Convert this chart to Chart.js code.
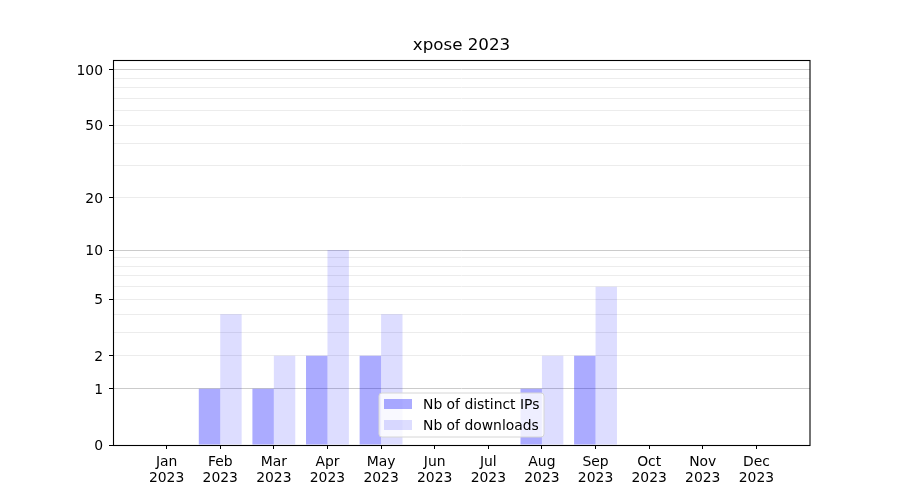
<!DOCTYPE html>
<html>
<head>
<meta charset="utf-8">
<script src="https://cdn.jsdelivr.net/npm/chart.js@4/dist/chart.umd.min.js"></script>
<style>
  html, body { margin: 0; padding: 0; background: #ffffff; }
  #wrap { width: 900px; height: 500px; }
</style>
</head>
<body>
<div id="wrap"><canvas id="c" width="900" height="500"></canvas></div>
<script>
// ---- data ----
const title = 'xpose 2023';
const months = ['Jan','Feb','Mar','Apr','May','Jun','Jul','Aug','Sep','Oct','Nov','Dec'];
const year = '2023';
const distinctIPs = [0, 1, 1, 2, 2, 0, 0, 1, 2, 0, 0, 0];
const downloads   = [0, 4, 2, 10, 4, 0, 0, 2, 6, 0, 0, 0];
const seriesNames = ['Nb of distinct IPs', 'Nb of downloads'];
const yTickLabels = [0, 1, 2, 5, 10, 20, 50, 100];
const yMinorGrid  = [3, 4, 6, 7, 8, 9, 30, 40, 60, 70, 80, 90];
const yMax = 113;

const FONT = 'DejaVu Sans';
const colors = ['rgba(0,0,255,0.33)', 'rgba(0,0,255,0.133)'];

// padded category axis (one empty slot on each side)
const labels = [''].concat(months.map(m => [m, year])).concat(['']);
const pad = arr => [null].concat(arr).concat([null]);

// ---- log10(1+x) scale ----
class Log1pScale extends Chart.Scale {
  determineDataLimits() {
    this.min = 0;
    this.max = this.options.max != null ? this.options.max : 100;
  }
  buildTicks() {
    const vals = yTickLabels.concat(yMinorGrid).sort((a, b) => a - b);
    return vals.map(v => ({ value: v, major: yTickLabels.includes(v) }));
  }
  configure() {
    super.configure();
    this._s = Math.log10(1 + this.min);
    this._r = Math.log10(1 + this.max) - this._s;
  }
  getLabelForValue(v) { return String(v); }
  getPixelForValue(v) {
    if (v === null || v === undefined || isNaN(v)) return NaN;
    return this.getPixelForDecimal((Math.log10(1 + v) - this._s) / this._r);
  }
  getValueForPixel(p) {
    const d = this.getDecimalForPixel(p);
    return Math.pow(10, this._s + d * this._r) - 1;
  }
}
Log1pScale.id = 'log1p';
Log1pScale.defaults = {};
Chart.register(Log1pScale);

// ---- plugins: frame, title, legend ----
const framePlugin = {
  id: 'frame',
  afterDatasetsDraw(chart) {
    const a = chart.chartArea, ctx = chart.ctx;
    ctx.save();
    ctx.strokeStyle = '#000000';
    ctx.lineWidth = 1.1;
    ctx.strokeRect(Math.round(a.left) + 0.5, Math.round(a.top) + 0.5,
                   Math.round(a.right - a.left) - 0.5, Math.round(a.bottom - a.top));
    ctx.restore();
  }
};

const titlePlugin = {
  id: 'mtitle',
  afterDraw(chart) {
    const a = chart.chartArea, ctx = chart.ctx;
    ctx.save();
    ctx.fillStyle = '#000000';
    ctx.font = '16.7px "' + FONT + '"';
    ctx.textAlign = 'center';
    ctx.textBaseline = 'middle';
    ctx.fillText(title, (a.left + a.right) / 2, 46);
    ctx.restore();
  }
};

const legendPlugin = {
  id: 'mlegend',
  afterDraw(chart) {
    const ctx = chart.ctx;
    const bx = 379, by = 393, bw = 165, bh = 44, r = 3;
    ctx.save();
    ctx.beginPath();
    ctx.moveTo(bx + r, by);
    ctx.arcTo(bx + bw, by, bx + bw, by + bh, r);
    ctx.arcTo(bx + bw, by + bh, bx, by + bh, r);
    ctx.arcTo(bx, by + bh, bx, by, r);
    ctx.arcTo(bx, by, bx + bw, by, r);
    ctx.closePath();
    ctx.fillStyle = 'rgba(255,255,255,0.8)';
    ctx.fill();
    ctx.strokeStyle = '#d6d6d6';
    ctx.lineWidth = 1;
    ctx.stroke();
    ctx.font = '13.9px "' + FONT + '"';
    ctx.textBaseline = 'middle';
    ctx.textAlign = 'left';
    chart.data.datasets.forEach((ds, i) => {
      const cy = 404 + i * 21;
      ctx.fillStyle = ds.backgroundColor;
      ctx.fillRect(384, cy - 5, 28, 10);
      ctx.fillStyle = '#000000';
      ctx.fillText(ds.label, 423, cy + 1);
    });
    ctx.restore();
  }
};

new Chart(document.getElementById('c'), {
  type: 'bar',
  data: {
    labels: labels,
    datasets: [
      { label: seriesNames[0], data: pad(distinctIPs), backgroundColor: colors[0], borderWidth: 0 },
      { label: seriesNames[1], data: pad(downloads), backgroundColor: colors[1], borderWidth: 0 }
    ]
  },
  options: {
    responsive: false,
    animation: false,
    events: [],
    layout: { padding: { top: 60, right: 90, left: 0, bottom: 0 } },
    datasets: { bar: { categoryPercentage: 0.8, barPercentage: 1.0 } },
    plugins: {
      legend: { display: false },
      title: { display: false },
      tooltip: { enabled: false }
    },
    scales: {
      x: {
        type: 'category',
        offset: false,
        border: { display: false },
        grid: {
          offset: false,
          drawOnChartArea: false,
          drawTicks: true,
          tickLength: 4,
          tickWidth: 1,
          tickColor: ctx => (ctx.index === 0 || ctx.index === labels.length - 1) ? 'rgba(0,0,0,0)' : '#000000'
        },
        ticks: {
          autoSkip: false,
          maxRotation: 0,
          padding: 5,
          color: '#000000',
          font: { family: FONT, size: 13.9, lineHeight: 1.15 }
        },
        afterFit: s => { s.height = 55; }
      },
      y: {
        type: 'log1p',
        position: 'left',
        max: yMax,
        border: { display: false },
        grid: {
          drawTicks: true,
          tickLength: 4,
          tickWidth: 1,
          lineWidth: 1,
          color: ctx => {
            const v = ctx.tick ? ctx.tick.value : null;
            if (v === 0) return 'rgba(0,0,0,0)';
            if (v === 1 || v === 10 || v === 100) return '#cbcbcb';
            return '#ececec';
          },
          tickColor: ctx => (ctx.tick && yTickLabels.includes(ctx.tick.value)) ? '#000000' : 'rgba(0,0,0,0)'
        },
        ticks: {
          autoSkip: false,
          padding: 6,
          labelOffset: 1.5,
          color: '#000000',
          font: { family: FONT, size: 13.9 },
          callback: v => yTickLabels.includes(v) ? String(v) : ''
        },
        afterFit: s => { s.width = 113; }
      }
    }
  },
  plugins: [framePlugin, titlePlugin, legendPlugin]
});
</script>
</body>
</html>
